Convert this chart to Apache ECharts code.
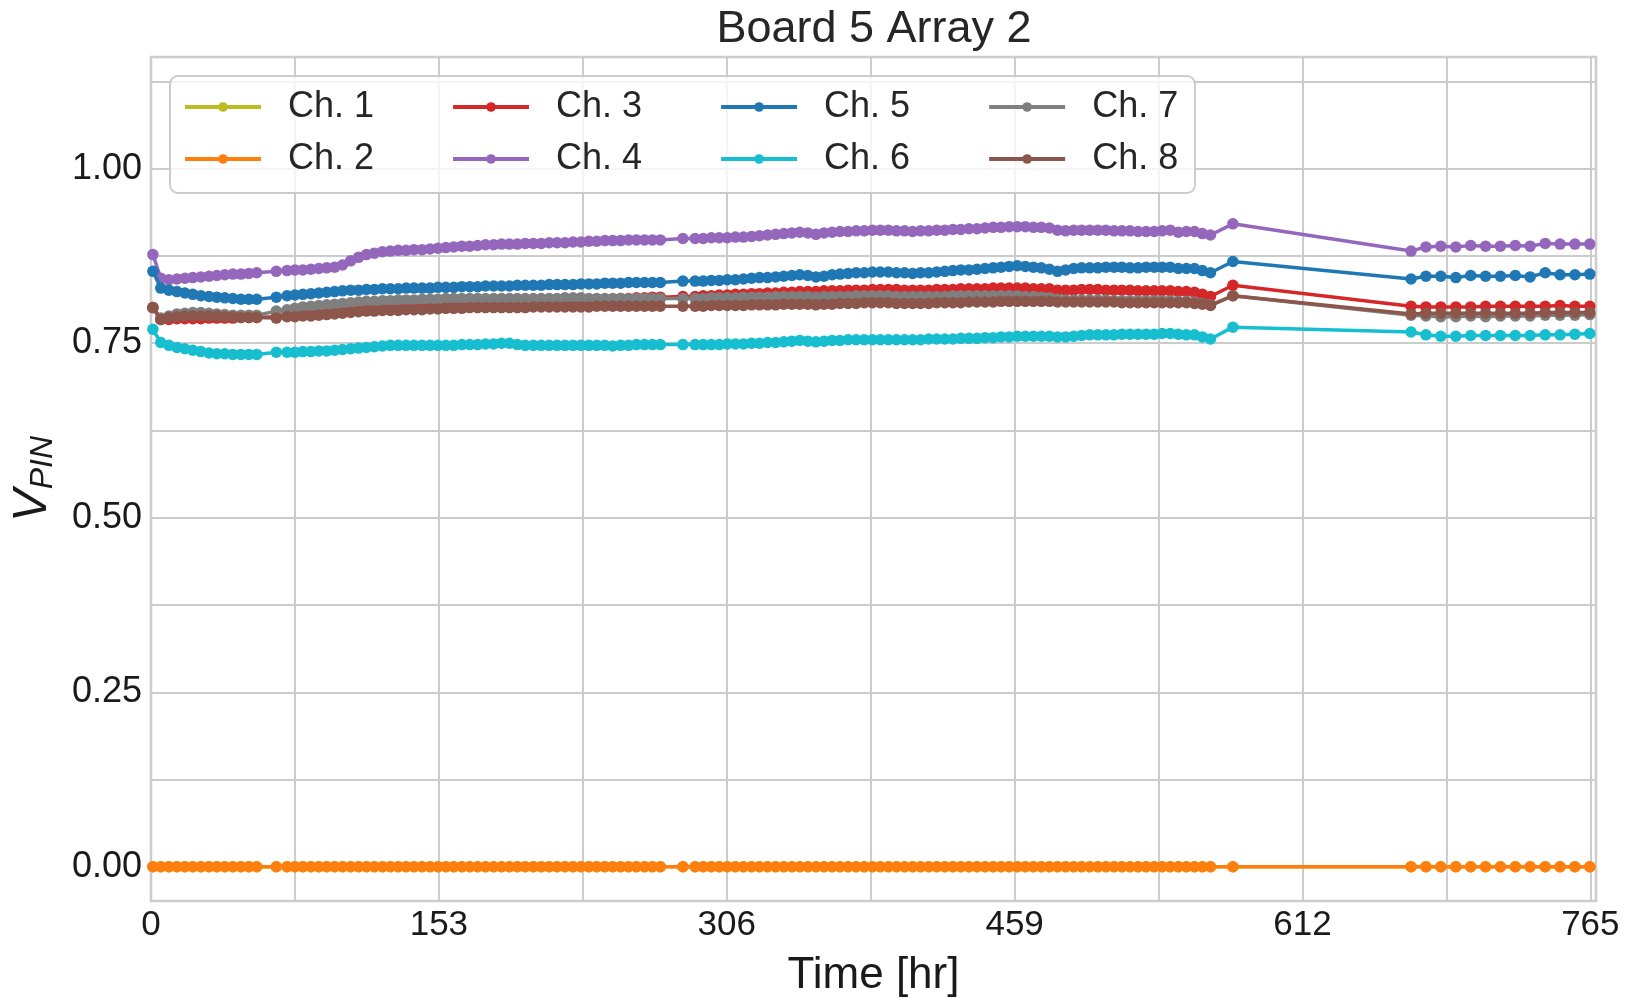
<!DOCTYPE html>
<html><head><meta charset="utf-8">
<script src="https://cdn.jsdelivr.net/npm/echarts@6/dist/echarts.min.js"></script>
<style>html,body{margin:0;padding:0;background:#fff}#c{width:1633px;height:999px}</style>
</head><body><div id="c"></div>
<script>
// Time [hr]
const timeHr = [
  1.0, 5.2, 9.5, 13.8, 18.0, 22.2, 26.5, 30.8, 35.0, 39.2, 43.5, 47.8, 52.0, 56.2,
  66.6,
  72.3, 76.5, 80.7, 85.0, 89.2, 93.4, 97.6, 101.8, 106.1, 110.3, 114.5, 118.7, 123.0, 127.2, 131.4, 135.6, 139.8, 144.1, 148.3, 152.5, 156.7, 160.9, 165.2, 169.4, 173.6, 177.8, 182.1, 186.3, 190.5, 194.7, 198.9, 203.2, 207.4, 211.6, 215.8, 220.0, 224.3, 228.5, 232.7, 236.9, 241.2, 245.4, 249.6, 253.8, 258.0, 262.3, 266.5, 270.7,
  282.7,
  289.2, 293.5, 297.8, 302.0, 306.3, 310.6, 314.9, 319.2, 323.4, 327.7, 332.0, 336.3, 340.6, 344.8, 349.1, 353.4, 357.7, 362.0, 366.2, 370.5, 374.8, 379.1, 383.4, 387.6, 391.9, 396.2, 400.5, 404.8, 409.0, 413.3, 417.6, 421.9, 426.2, 430.4, 434.7, 439.0, 443.3, 447.6, 451.8, 456.1, 460.4, 464.7, 469.0, 473.2, 477.5, 481.8, 486.1, 490.4, 494.6, 498.9, 503.2, 507.5, 511.8, 516.0, 520.3, 524.6, 528.9, 533.2, 537.4, 541.7, 546.0, 550.3, 554.6, 558.8, 563.1,
  575.0,
  669.7, 677.6, 685.5, 693.5, 701.4, 709.3, 717.2, 725.1, 733.0, 741.0, 748.9, 756.8, 764.7
];
// V_PIN values x 1000
const ch1 = [
  0,0,0,0,0,0,0,0,0,0,0,0,0,0,
  0,
  0,0,0,0,0,0,0,0,0,0, 0,0,0,0,0,0,0,0,0,0, 0,0,0,0,0,0,0,0,0,0, 0,0,0,0,0,0,0,0,0,0, 0,0,0,0,0,0,0,0,
  0,
  0,0,0,0,0,0,0,0,0,0, 0,0,0,0,0,0,0,0,0,0, 0,0,0,0,0,0,0,0,0,0, 0,0,0,0,0,0,0,0,0,0, 0,0,0,0,0,0,0,0,0,0, 0,0,0,0,0,0,0,0,0,0, 0,0,0,0,0,
  0,
  0,0,0,0,0,0,0,0,0,0,0,0,0
];
const ch2 = [
  0,0,0,0,0,0,0,0,0,0,0,0,0,0,
  0,
  0,0,0,0,0,0,0,0,0,0, 0,0,0,0,0,0,0,0,0,0, 0,0,0,0,0,0,0,0,0,0, 0,0,0,0,0,0,0,0,0,0, 0,0,0,0,0,0,0,0,
  0,
  0,0,0,0,0,0,0,0,0,0, 0,0,0,0,0,0,0,0,0,0, 0,0,0,0,0,0,0,0,0,0, 0,0,0,0,0,0,0,0,0,0, 0,0,0,0,0,0,0,0,0,0, 0,0,0,0,0,0,0,0,0,0, 0,0,0,0,0,
  0,
  0,0,0,0,0,0,0,0,0,0,0,0,0
];
const ch3 = [
  801,784,784,785,785,785,785,786,786,786,786,787,787,787,
  788,
  790,791,792,793,794,795,796,797,799,800,801,802,803,803,804,804,805,805,806,806,807,807,807,808,808,808,809,809,809,810,810,810,810,811,811,811,812,812,812,813,813,813,814,814,815,815,816,816,
  817,
  817,818,818,819,819,820,820,821,821,822,822,823,823,824,824,824,825,825,825,826,826,826,827,827,827,827,826,826,826,826,827,827,827,828,828,828,828,829,829,829,829,829,828,828,828,826,826,826,827,827,827,826,826,826,826,825,825,825,825,825,824,824,823,820,817,
  833,
  803,802,802,802,802,803,803,803,803,803,804,803,803
];
const ch4 = [
  877,843,841,842,843,844,845,846,847,848,849,849,850,851,
  853,
  854,855,855,856,857,858,859,862,868,873,877,879,881,882,883,883,884,884,885,886,887,888,889,889,890,891,891,892,892,892,893,893,893,894,894,894,895,895,896,896,897,897,897,898,898,898,898,898,
  900,
  900,900,901,901,901,902,902,903,904,905,906,907,908,909,908,906,908,909,910,910,911,911,912,912,912,911,911,910,911,911,912,912,913,913,914,914,915,916,916,917,917,917,916,916,915,912,911,912,912,912,912,912,911,911,911,910,910,910,911,912,909,910,910,907,905,
  921,
  882,888,889,888,890,889,889,890,889,893,892,892,892
];
const ch5 = [
  853,829,826,824,822,820,818,817,816,815,814,813,813,813,
  816,
  818,819,820,821,822,823,824,825,826,826,827,827,828,828,828,829,829,829,829,830,830,830,831,831,831,832,832,832,832,833,833,833,833,834,834,834,834,835,835,835,836,836,836,837,837,837,837,837,
  839,
  839,839,840,840,841,841,842,843,844,844,845,846,847,848,847,845,846,848,849,850,851,851,852,852,852,851,851,850,851,851,852,853,854,855,855,856,857,858,859,860,861,860,859,858,856,853,855,857,858,858,858,859,859,859,858,858,859,859,859,859,857,857,857,854,851,
  867,
  842,846,846,844,847,846,846,847,845,851,848,848,849
];
const ch6 = [
  770,751,747,744,742,740,738,736,735,735,734,734,734,734,
  737,
  737,737,738,738,739,739,740,741,742,743,744,745,746,747,747,747,747,747,747,747,747,747,748,748,748,749,749,750,750,748,747,747,747,747,747,747,747,747,747,747,747,746,747,747,748,748,748,748,
  748,
  748,748,748,748,749,749,749,750,750,751,751,752,753,754,753,752,753,754,754,755,755,755,755,755,755,755,755,755,755,756,756,756,756,757,757,757,758,758,759,759,760,760,760,760,760,759,759,760,761,762,762,762,762,763,763,763,763,763,764,764,763,762,762,759,756,
  773,
  766,762,760,760,761,761,761,761,761,762,762,763,764
];
const ch7 = [
  801,786,789,792,793,794,794,793,792,791,790,790,790,790,
  796,
  798,800,802,803,804,805,806,807,808,809,810,810,811,811,812,812,812,813,813,813,814,814,814,814,814,814,814,814,814,814,814,814,814,814,814,815,815,815,814,814,814,814,814,814,814,814,814,814,
  814,
  814,814,815,815,815,815,816,816,816,816,817,817,817,817,817,816,817,817,817,817,818,818,818,818,818,817,817,817,817,817,817,817,818,818,818,818,818,818,818,818,818,817,817,816,815,813,812,812,812,812,812,812,811,811,811,811,811,811,811,811,810,810,809,807,805,
  818,
  790,789,788,788,789,788,789,789,789,790,790,790,791
];
const ch8 = [
  801,784,787,788,789,789,789,789,789,788,788,787,787,787,
  786,
  788,788,789,789,790,791,792,793,794,795,796,796,797,797,797,798,798,798,799,799,800,800,800,801,801,801,801,801,801,801,801,802,802,802,802,802,802,802,802,803,803,803,803,803,803,803,803,803,
  803,
  803,803,804,804,804,804,804,805,805,805,805,806,806,806,806,805,806,806,807,807,807,808,808,808,808,807,807,807,807,807,808,808,808,808,809,809,809,809,810,810,810,810,810,810,810,809,809,809,809,809,809,809,809,808,808,808,808,808,808,808,808,808,807,806,804,
  818,
  792,793,793,793,793,793,793,793,793,794,794,794,794
];
const channelNames = ['Ch. 1','Ch. 2','Ch. 3','Ch. 4','Ch. 5','Ch. 6','Ch. 7','Ch. 8'];
const channelColors = ['#bcbd22','#ff7f0e','#d62728','#9467bd','#1f77b4','#17becf','#7f7f7f','#8c564b'];
const channelValues = [ch1, ch2, ch3, ch4, ch5, ch6, ch7, ch8];
const xTickLabels = [0, 153, 306, 459, 612, 765];
const xGridValues = [0, 76.5, 153, 229.5, 306, 382.5, 459, 535.5, 612, 688.5, 765];
const yTickLabels = [0, 0.25, 0.5, 0.75, 1.0];
const yGridValues = [0, 0.125, 0.25, 0.375, 0.5, 0.625, 0.75, 0.875, 1.0, 1.125];

const FONT = "'Liberation Sans', Arial, Helvetica, sans-serif";
const GRID = '#cccccc';
const chart = echarts.init(document.getElementById('c'), null, {renderer: 'canvas'});

const series = channelNames.map((n, i) => ({
  name: n,
  type: 'line',
  data: timeHr.map((t, j) => [t, channelValues[i][j] / 1000]),
  symbol: 'circle',
  symbolSize: 11.5,
  showSymbol: true,
  lineStyle: {width: 3.5, color: channelColors[i]},
  itemStyle: {color: channelColors[i]},
  z: 2 + i,
  emphasis: {disabled: true},
  animation: false
}));

const legendCommon = {
  orient: 'horizontal',
  itemWidth: 76,
  itemHeight: 12,
  itemGap: 77,
  padding: 0,
  selectedMode: false,
  lineStyle: {width: 4},
  textStyle: {fontSize: 36, fontFamily: FONT, color: '#262626', padding: [0, 0, 0, 22], lineHeight: 40}
};

chart.setOption({
  animation: false,
  backgroundColor: '#ffffff',
  title: {
    text: 'Board 5 Array 2',
    left: 869, top: 2, textAlign: 'center',
    textStyle: {fontSize: 45, fontWeight: 'normal', fontFamily: FONT, color: '#262626'}
  },
  legend: [
    Object.assign({data: ['Ch. 1', 'Ch. 3', 'Ch. 5', 'Ch. 7'], left: 183, top: 87}, legendCommon),
    Object.assign({data: ['Ch. 2', 'Ch. 4', 'Ch. 6', 'Ch. 8'], left: 183, top: 139}, legendCommon)
  ],
  graphic: [{
    type: 'rect', z: 3,
    shape: {x: 170, y: 76, width: 1025, height: 117, r: 8},
    style: {fill: 'rgba(255,255,255,0.8)', stroke: GRID, lineWidth: 2}
  }],
  grid: {
    left: 151, right: 37, top: 57, bottom: 98,
    outerBoundsMode: 'none', containLabel: false,
    show: true, borderColor: GRID, borderWidth: 2.5, backgroundColor: 'transparent'
  },
  xAxis: {
    type: 'value', min: 0, max: 768,
    name: 'Time [hr]', nameLocation: 'middle', nameGap: 53,
    nameTextStyle: {fontSize: 44, fontFamily: FONT, color: '#1a1a1a'},
    axisLine: {show: false},
    axisTick: {show: false, customValues: xGridValues},
    axisLabel: {customValues: xTickLabels, fontSize: 35, fontFamily: FONT, color: '#1a1a1a', margin: 7},
    splitLine: {show: true, lineStyle: {color: GRID, width: 2}}
  },
  yAxis: {
    type: 'value', min: -0.049, max: 1.16,
    name: '{v|V}{s|PIN}', nameLocation: 'middle', nameGap: 92, nameRotate: 90,
    nameTextStyle: {
      fontFamily: FONT, color: '#1a1a1a',
      rich: {
        v: {fontSize: 49, fontStyle: 'italic', fontFamily: FONT, color: '#1a1a1a', lineHeight: 54},
        s: {fontSize: 32, fontStyle: 'italic', fontFamily: FONT, color: '#1a1a1a', verticalAlign: 'bottom', lineHeight: 20}
      }
    },
    axisLine: {show: false},
    axisTick: {show: false, customValues: yGridValues},
    axisLabel: {customValues: yTickLabels, fontSize: 36, fontFamily: FONT, color: '#1a1a1a', margin: 9,
      formatter: v => v.toFixed(2)},
    splitLine: {show: true, lineStyle: {color: GRID, width: 2}}
  },
  series: series
});
</script></body></html>
